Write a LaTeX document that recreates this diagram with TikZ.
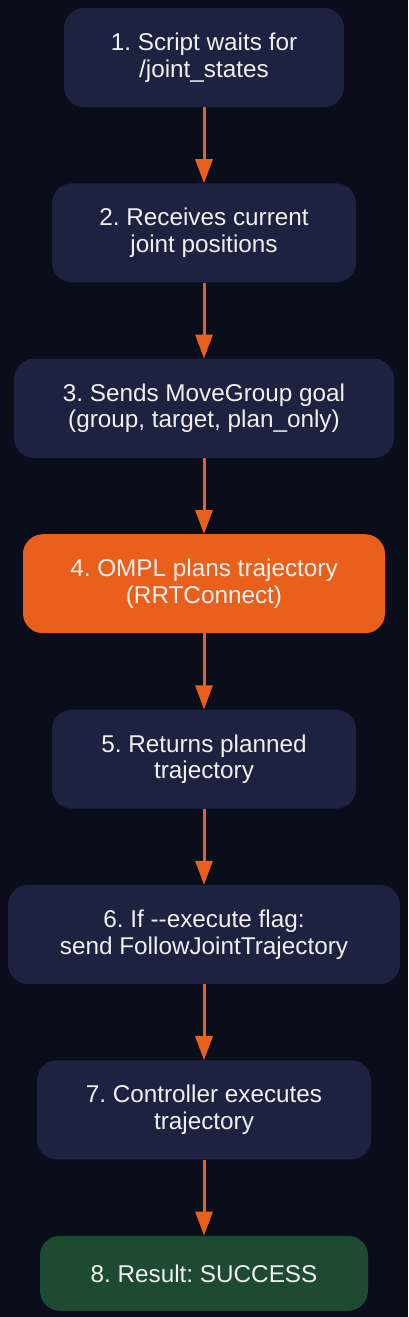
\documentclass[tikz,border=0pt]{standalone}
\usepackage{fontspec}
\setmainfont{Liberation Sans}
\usepackage{tikz}
\usetikzlibrary{positioning,arrows.meta}
\definecolor{flowbg}{HTML}{0A0E1A}
\definecolor{stepnavy}{HTML}{1C2240}
\definecolor{planorange}{HTML}{E8601C}
\definecolor{okgreen}{HTML}{1E4A32}
\frenchspacing

\begin{document}
\begin{tikzpicture}[x=1pt,y=1pt,
    stepbox/.style={rectangle,rounded corners=20pt,fill=stepnavy,text=white!94!black,align=center,
      minimum height=99pt,inner sep=0pt,font=\fontsize{24.3}{26.6}\selectfont},
    flow/.style={-{Triangle[length=24pt,width=17pt]},line width=3pt,draw=planorange},
    node distance=76pt]
    \fill[flowbg] (0,0) rectangle (408,-1317);
    \node[stepbox,minimum width=280pt] (s1) at (204,-57.5) {1. Script waits for\\/joint\_states};
    \node[stepbox,minimum width=304pt,below=of s1] (s2) {2. Receives current\\joint positions};
    \node[stepbox,minimum width=380pt,below=of s2] (s3) {3. Sends MoveGroup goal\\(group, target, plan\_only)};
    \node[stepbox,minimum width=362pt,fill=planorange,below=of s3] (s4) {4. OMPL plans trajectory\\(RRTConnect)};
    \node[stepbox,minimum width=304pt,below=of s4] (s5) {5. Returns planned\\trajectory};
    \node[stepbox,minimum width=392pt,below=of s5] (s6) {6. If -{}-execute flag:\\send FollowJointTrajectory};
    \node[stepbox,minimum width=334pt,below=of s6] (s7) {7. Controller executes\\trajectory};
    \node[stepbox,minimum width=328pt,minimum height=75pt,fill=okgreen,below=of s7] (s8) {8. Result: SUCCESS};
    \foreach \a/\b in {s1/s2,s2/s3,s3/s4,s4/s5,s5/s6,s6/s7,s7/s8} \draw[flow] (\a) -- (\b);
\end{tikzpicture}
\end{document}
